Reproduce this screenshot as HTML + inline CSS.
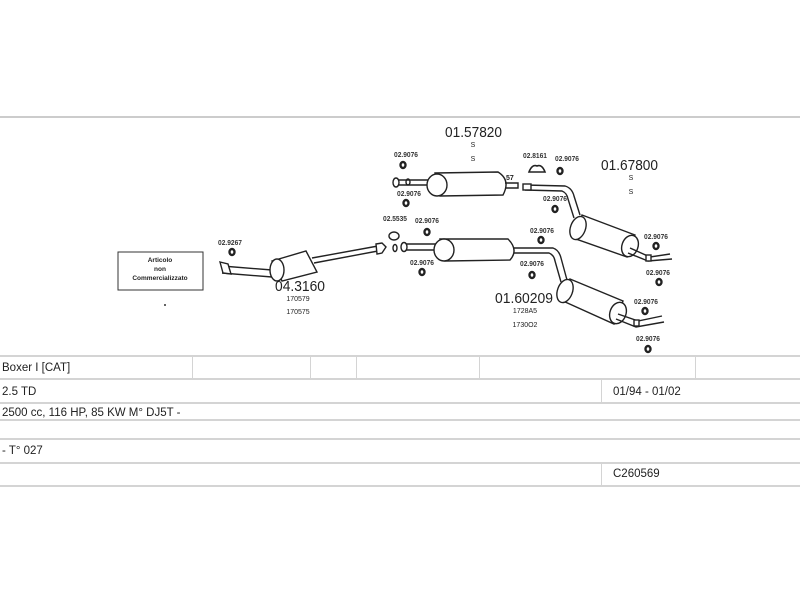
<!DOCTYPE html>
<html><head><meta charset="utf-8"><style>
html,body{margin:0;padding:0;background:#fff;width:800px;height:600px;overflow:hidden}
svg{display:block}
text{font-family:"Liberation Sans",sans-serif;fill:#222}
.s{font-size:7px}
.sl text{font-size:7.5px;font-weight:bold;fill:#333}
.t{font-size:11.5px;fill:#222}
</style></head><body>
<svg width="800" height="600" viewBox="0 0 800 600">
<rect x="0" y="116" width="800" height="2" fill="#ccc"/>

<rect x="118" y="252" width="85" height="38" fill="#fff" stroke="#333" stroke-width="1"/>
<text x="160" y="262" font-size="6.5" font-weight="bold" text-anchor="middle">Articolo</text>
<text x="160" y="271" font-size="6.5" font-weight="bold" text-anchor="middle">non</text>
<text x="160" y="280" font-size="6.5" font-weight="bold" text-anchor="middle">Commercializzato</text>
<circle cx="165" cy="305" r="1" fill="#333"/>

<g fill="none" stroke="#222" stroke-width="1.4">
<path d="M222 266 L272 270 M222 273 L272 277"/>
<path d="M220 262 l8 2 l3 10 l-8 -1 z" fill="#fff"/>
<path d="M272 261 L306 251 L317 272 L282 281 Z" fill="#fff"/>
<ellipse cx="277" cy="270" rx="7" ry="11" fill="#fff"/>
<path d="M312 258 L378 246 M314 263 L378 251"/>
<path d="M376 244 l6 -1 l4 4 l-4 6 l-5 1 z" fill="#fff"/>
<ellipse cx="232" cy="252" rx="2.5" ry="3" stroke-width="2.4"/>

<path d="M398 180 L430 180 M398 185 L430 185"/>
<ellipse cx="396" cy="182.5" rx="3" ry="4.5" fill="#fff"/>
<path d="M435 173 L498 172 Q511 180 503 195 L440 196 Z" fill="#fff"/>
<ellipse cx="437" cy="185" rx="10" ry="11" fill="#fff"/>
<path d="M505 183 L518 183 L518 188 L505 188"/>
<ellipse cx="408" cy="182" rx="2" ry="3" />
<ellipse cx="406" cy="203" rx="2.5" ry="3" stroke-width="2.4"/>
<ellipse cx="403" cy="165" rx="2.5" ry="3" stroke-width="2.4"/>

<path d="M525 185 L565 186 Q572 188 574 196 L580 215 M525 190 L562 191 Q567 193 568 199 L574 218"/>
<rect x="523" y="184" width="8" height="6" fill="#fff"/>
<path d="M529 172 q3 -8 8 -6 q5 -2 8 6 z" stroke-width="1.6"/>
<ellipse cx="560" cy="171" rx="2.5" ry="3" stroke-width="2.4"/>
<ellipse cx="555" cy="209" rx="2.5" ry="3" stroke-width="2.4"/>

<path d="M582 215 L635 235 L627 257 L576 239 Z" fill="#fff"/>
<ellipse cx="578" cy="228" rx="7.5" ry="12" fill="#fff" transform="rotate(20 578 228)"/>
<ellipse cx="630" cy="246" rx="8" ry="11" fill="#fff" transform="rotate(20 630 246)"/>
<path d="M630 248 L650 257 L670 254 M628 253 L648 261 L672 259"/>
<rect x="646" y="255" width="5" height="6" fill="#fff"/>
<ellipse cx="656" cy="246" rx="2.5" ry="3" stroke-width="2.4"/>
<ellipse cx="659" cy="282" rx="2.5" ry="3" stroke-width="2.4"/>

<path d="M402 244 L440 244 M402 250 L440 250"/>
<ellipse cx="395" cy="248" rx="2" ry="3.5"/>
<ellipse cx="404" cy="247" rx="3" ry="4.5" fill="#fff"/>
<path d="M440 239 L508 239 Q519 250 510 260 L445 261 Z" fill="#fff"/>
<ellipse cx="444" cy="250" rx="10" ry="11" fill="#fff"/>
<ellipse cx="394" cy="236" rx="5" ry="4"/>
<ellipse cx="427" cy="232" rx="2.5" ry="3" stroke-width="2.4"/>
<ellipse cx="422" cy="272" rx="2.5" ry="3" stroke-width="2.4"/>
<path d="M514 248 L553 248 Q559 250 561 258 L567 280 M514 253 L549 253 Q554 255 555 261 L561 282"/>
<ellipse cx="541" cy="240" rx="2.5" ry="3" stroke-width="2.4"/>
<ellipse cx="532" cy="275" rx="2.5" ry="3" stroke-width="2.4"/>

<path d="M570 279 L623 301 L614 324 L563 301 Z" fill="#fff"/>
<ellipse cx="565" cy="291" rx="7.5" ry="12" fill="#fff" transform="rotate(20 565 291)"/>
<ellipse cx="618" cy="313" rx="8" ry="11" fill="#fff" transform="rotate(20 618 313)"/>
<path d="M618 314 L638 321 L662 316 M616 319 L636 327 L664 322"/>
<rect x="634" y="320" width="5" height="6" fill="#fff"/>
<ellipse cx="645" cy="311" rx="2.5" ry="3" stroke-width="2.4"/>
<ellipse cx="648" cy="349" rx="2.5" ry="3" stroke-width="2.4"/>
</g>

<text x="275" y="291" font-size="14.5" textLength="50" lengthAdjust="spacingAndGlyphs">04.3160</text>
<text x="298" y="301" class="s" text-anchor="middle">170579</text>
<text x="298" y="314" class="s" text-anchor="middle">170575</text>
<text x="445" y="137" font-size="14.5" textLength="57" lengthAdjust="spacingAndGlyphs">01.57820</text>
<text x="473" y="147" class="s" text-anchor="middle">S</text>
<text x="473" y="161" class="s" text-anchor="middle">S</text>
<text x="601" y="170" font-size="14.5" textLength="57" lengthAdjust="spacingAndGlyphs">01.67800</text>
<text x="631" y="180" class="s" text-anchor="middle">S</text>
<text x="631" y="194" class="s" text-anchor="middle">S</text>
<text x="495" y="303" font-size="14.5" textLength="58" lengthAdjust="spacingAndGlyphs">01.60209</text>
<text x="525" y="313" class="s" text-anchor="middle">1728A5</text>
<text x="525" y="327" class="s" text-anchor="middle">1730O2</text>
<text x="506" y="180" font-size="7" font-weight="bold">57</text>

<g class="sl">
<text x="218" y="245" textLength="24" lengthAdjust="spacingAndGlyphs">02.9267</text>
<text x="394" y="157" textLength="24" lengthAdjust="spacingAndGlyphs">02.9076</text>
<text x="397" y="196" textLength="24" lengthAdjust="spacingAndGlyphs">02.9076</text>
<text x="383" y="221" textLength="24" lengthAdjust="spacingAndGlyphs">02.5535</text>
<text x="415" y="223" textLength="24" lengthAdjust="spacingAndGlyphs">02.9076</text>
<text x="410" y="265" textLength="24" lengthAdjust="spacingAndGlyphs">02.9076</text>
<text x="523" y="158" textLength="24" lengthAdjust="spacingAndGlyphs">02.8161</text>
<text x="555" y="161" textLength="24" lengthAdjust="spacingAndGlyphs">02.9076</text>
<text x="543" y="201" textLength="24" lengthAdjust="spacingAndGlyphs">02.9076</text>
<text x="530" y="233" textLength="24" lengthAdjust="spacingAndGlyphs">02.9076</text>
<text x="520" y="266" textLength="24" lengthAdjust="spacingAndGlyphs">02.9076</text>
<text x="644" y="239" textLength="24" lengthAdjust="spacingAndGlyphs">02.9076</text>
<text x="646" y="275" textLength="24" lengthAdjust="spacingAndGlyphs">02.9076</text>
<text x="634" y="304" textLength="24" lengthAdjust="spacingAndGlyphs">02.9076</text>
<text x="636" y="341" textLength="24" lengthAdjust="spacingAndGlyphs">02.9076</text>
</g>

<g fill="#d4d4d4">
<rect x="0" y="355" width="800" height="2"/>
<rect x="0" y="378" width="800" height="2"/>
<rect x="0" y="402" width="800" height="2"/>
<rect x="0" y="419" width="800" height="2"/>
<rect x="0" y="438" width="800" height="2"/>
<rect x="0" y="462" width="800" height="2"/>
<rect x="0" y="485" width="800" height="2"/>
<rect x="192" y="357" width="1" height="21"/>
<rect x="310" y="357" width="1" height="21"/>
<rect x="356" y="357" width="1" height="21"/>
<rect x="479" y="357" width="1" height="21"/>
<rect x="695" y="357" width="1" height="21"/>
<rect x="601" y="380" width="1" height="22"/>
<rect x="601" y="464" width="1" height="21"/>
</g>
<text x="2" y="371" class="t">Boxer I [CAT]</text>
<text x="2" y="395" class="t">2.5 TD</text>
<text x="613" y="395" class="t">01/94 - 01/02</text>
<text x="2" y="416" class="t">2500 cc, 116 HP, 85 KW M° DJ5T -</text>
<text x="2" y="454" class="t">- T° 027</text>
<text x="613" y="477" class="t">C260569</text>
</svg>
</body></html>
